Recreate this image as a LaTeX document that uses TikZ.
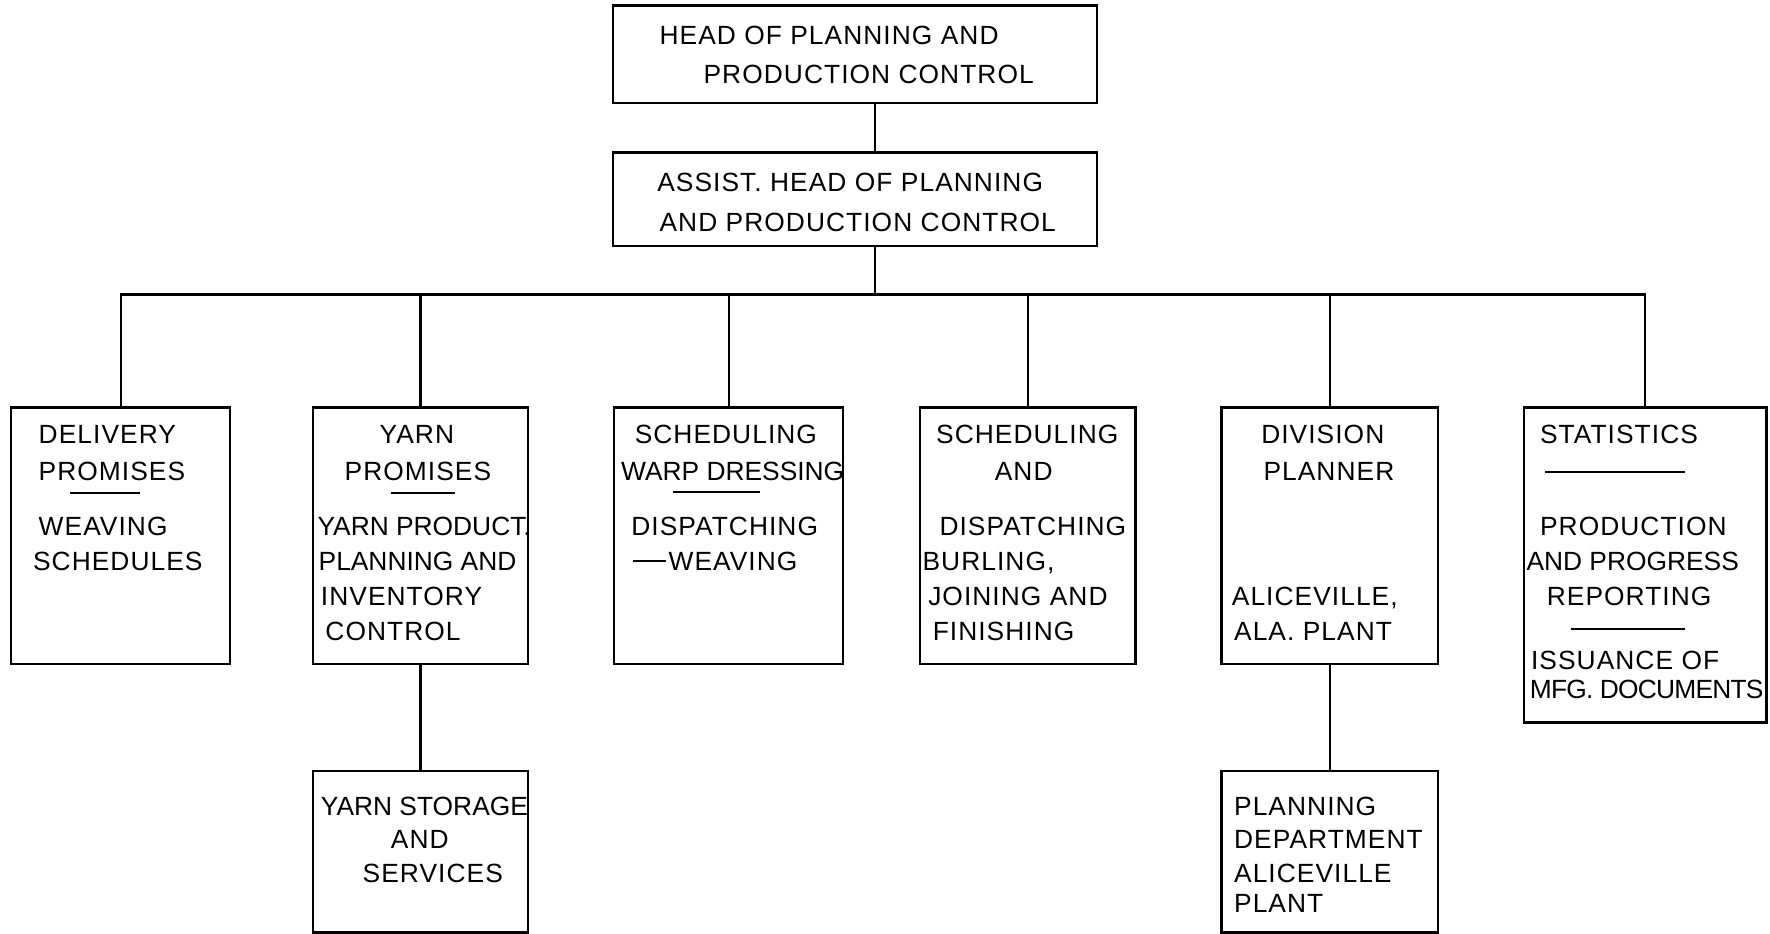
\documentclass[tikz,border=0pt]{standalone}
\usepackage{fontspec}
\setmainfont{Liberation Sans}[LetterSpace=4]
\newfontfamily\tightfont{Liberation Sans}[LetterSpace=0]
\newfontfamily\tighterfont{Liberation Sans}[LetterSpace=-3]
\usetikzlibrary{fit}
\tikzset{
  box/.style={draw, line width=1.3pt, inner sep=0pt, rectangle},
  lbl/.style={anchor=base west, inner sep=0pt, font=\fontsize{15}{18}\selectfont},
  tight/.style={font=\fontsize{15}{18}\tightfont},
  tighter/.style={font=\fontsize{15}{18}\tighterfont},
  wire/.style={line width=1.3pt},
  rule/.style={line width=1.3pt}
}
\newcommand\tline[5][]{\node[lbl,#1] (#2) at (#3,#4+8) {#5};}
\begin{document}
\begin{tikzpicture}[x=0.022576cm, y=-0.022576cm]
\useasboundingbox (0,0) rectangle (1568,827);
% boxes
\node[box, fit={(543,5) (972,91)}] (top) {};
\node[box, fit={(543,135) (972,218)}] (assist) {};
\node[box, fit={(10,361) (204,588)}] (b1) {};
\node[box, fit={(277,361) (468,588)}] (b2) {};
\node[box, fit={(544,361) (747,588)}] (b3) {};
\node[box, fit={(815,361) (1006,588)}] (b4) {};
\node[box, fit={(1082,361) (1274,588)}] (b5) {};
\node[box, fit={(1350,361) (1565,640)}] (b6) {};
\node[box, fit={(277,683) (468,826)}] (b7) {};
\node[box, fit={(1082,683) (1274,826)}] (b8) {};
% connectors
\coordinate (trunk) at (775,261);
\draw[wire] (top.south -| trunk) -- (assist.north -| trunk);
\draw[wire] (assist.south -| trunk) -- (trunk);
\draw[wire] (b1.north) -- (b1.north |- trunk) -- (b6.north |- trunk) -- (b6.north);
\draw[wire] (b2.north) -- (b2.north |- trunk);
\draw[wire] (b3.north) -- (b3.north |- trunk);
\draw[wire] (b4.north) -- (b4.north |- trunk);
\draw[wire] (b5.north) -- (b5.north |- trunk);
\draw[wire] (b2.south) -- (b7.north);
\draw[wire] (b5.south) -- (b8.north);
% texts
\tline{ta}{584}{31}{HEAD OF PLANNING AND}
\tline{tb}{623}{66}{PRODUCTION CONTROL}
\tline{aa}{582}{162}{ASSIST. HEAD OF PLANNING}
\tline{ab}{584}{197}{AND PRODUCTION CONTROL}
% b1
\tline{b1a}{34}{385}{DELIVERY}
\tline{b1b}{34}{418}{PROMISES}
\draw[rule] (62,437) -- (124,437);
\tline{b1c}{34}{466}{WEAVING}
\tline{b1d}{29}{497}{SCHEDULES}
% b2
\tline{b2a}{336}{385}{YARN}
\tline{b2b}{305}{418}{PROMISES}
\draw[rule] (346,437) -- (403,437);
\tline[tight]{b2c}{281}{466}{YARN PRODUCT.}
\tline[tight]{b2d}{282}{497}{PLANNING AND}
\tline{b2e}{284}{528}{INVENTORY}
\tline{b2f}{288}{559}{CONTROL}
% b3
\tline{b3a}{562}{385}{SCHEDULING}
\tline[tight]{b3b}{550}{418}{WARP DRESSING}
\draw[rule] (596,436) -- (673,436);
\tline{b3c}{559}{466}{DISPATCHING}
\draw[rule] (561,497) -- (590,497);
\tline{b3d}{592}{497}{WEAVING}
% b4
\tline{b4a}{829}{385}{SCHEDULING}
\tline{b4b}{881}{418}{AND}
\tline{b4c}{832}{466}{DISPATCHING}
\tline{b4d}{817}{497}{BURLING,}
\tline{b4e}{822}{528}{JOINING AND}
\tline{b4f}{826}{559}{FINISHING}
% b5
\tline{b5a}{1117}{385}{DIVISION}
\tline{b5b}{1119}{418}{PLANNER}
\tline{b5c}{1091}{528}{ALICEVILLE,}
\tline{b5d}{1093}{559}{ALA. PLANT}
% b6
\tline{b6a}{1364}{385}{STATISTICS}
\draw[rule] (1369,418) -- (1493,418);
\tline{b6b}{1364}{466}{PRODUCTION}
\tline[tight]{b6c}{1352}{497}{AND PROGRESS}
\tline{b6d}{1370}{528}{REPORTING}
\draw[rule] (1392,557) -- (1493,557);
\tline{b6e}{1356}{585}{ISSUANCE OF}
\tline[tighter]{b6f}{1355}{611}{MFG. DOCUMENTS}
% b7
\tline[tight]{b7a}{284}{714}{YARN STORAGE}
\tline{b7b}{346}{744}{AND}
\tline{b7c}{321}{774}{SERVICES}
% b8
\tline{b8a}{1093}{714}{PLANNING}
\tline{b8b}{1093}{744}{DEPARTMENT}
\tline{b8c}{1093}{774}{ALICEVILLE}
\tline{b8d}{1093}{800}{PLANT}
\end{tikzpicture}
\end{document}
